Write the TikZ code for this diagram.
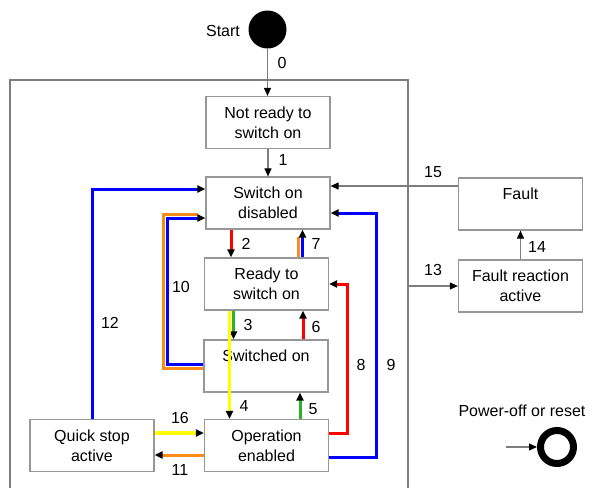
\documentclass[tikz,border=0pt]{standalone}
\usepackage{fontspec}
\setmainfont{Liberation Sans}
\usetikzlibrary{arrows.meta,positioning}
\definecolor{drvblue}{RGB}{0,0,255}
\definecolor{drvred}{RGB}{255,0,0}
\definecolor{drvyellow}{RGB}{255,255,0}
\definecolor{drvgreen}{RGB}{40,180,40}
\definecolor{drvorange}{RGB}{250,140,25}
\definecolor{drvgray}{RGB}{125,125,125}

\begin{document}
\begin{tikzpicture}[x=1pt, y=-1pt, >={Triangle[length=8pt,width=7pt,color=black]},
  every node/.style={font=\fontsize{16}{20}\selectfont},
  box/.style={draw=drvgray!80, line width=1.2pt, minimum width=124pt, minimum height=52pt, align=center, inner sep=0pt},
  link/.style={draw=drvgray, line width=1.1pt},
  bline/.style={draw=drvblue, line width=3pt},
  rline/.style={draw=drvred, line width=3pt},
  yline/.style={draw=drvyellow, line width=3.5pt},
  gline/.style={draw=drvgreen, line width=3pt},
  oline/.style={draw=drvorange, line width=3pt}]
\useasboundingbox (0,0) rectangle (590,488);
% frame of the device states
\draw[link] (10,488) -- (10,80) -- (408,80) -- (408,488);
\node[circle, fill=black, minimum size=38pt, inner sep=0pt] (start) at (267.5,29.5) {};
\node (startlab) at (223,31) {Start};
\node[box] (notready) at (268,122.5) {Not ready to\\switch on};
\node[box] (disabled) at (268,203) {Switch on\\disabled};
\node[box] (ready) at (266.5,284) {Ready to\\switch on};
\node[box] (switched) at (266,366) {Switched on\\\mbox{}};
\node[box] (opena) at (266.5,445.5) {Operation\\enabled};
\node[box] (quick) at (92,445.5) {Quick stop\\active};
\node[box] (fault) at (520.5,204) {Fault\\\mbox{}};
\node[box] (reaction) at (520.5,286) {Fault reaction\\active};
\node (resetlab) at (522,411) {Power-off or reset};
\node[circle, draw=black, line width=7pt, minimum size=33pt, inner sep=0pt] (reset) at (557,447) {};
\coordinate (resetin) at (506,447);
\coordinate (frame13) at (408,286);
% thin transitions
\draw[link, ->] (start.south) -- (start.south |- notready.north);
\draw[link, ->] (notready.south) -- (notready.south |- disabled.north);
\draw[link, ->] ([yshift=18pt]fault.west) -- ([yshift=18pt]fault.west -| disabled.east);
\draw[link, ->] (frame13) -- (frame13 -| reaction.west);
\draw[link, ->] (reaction.north) -- (fault.south);
\draw[link, ->] (resetin) -- (reset.west);
% coloured transitions
\draw[rline, ->] (disabled.south -| 231,0) -- (ready.north -| 231,0);
\draw[oline, shorten >=7pt] (ready.north -| 298.5,0) -- (disabled.south -| 298.5,0);
\draw[bline, ->] (ready.north -| 302.5,0) -- (disabled.south -| 302.5,0);
\draw[gline, ->] (ready.south -| 233.5,0) -- (switched.north -| 233.5,0);
\draw[rline, ->] (switched.north -| 303,0) -- (ready.south -| 303,0);
\draw[gline, ->] (opena.north -| 300,0) -- (switched.south -| 300,0);
\draw[yline, ->] (ready.south -| 229.5,0) -- (opena.north -| 229.5,0);
\draw[rline, ->] ([yshift=12.5pt]opena.east) -| ([xshift=18pt]ready.east) -- (ready.east);
\draw[bline, ->] ([yshift=-11.5pt]opena.east) -| ([xshift=46pt,yshift=-10pt]disabled.east) -- ([yshift=-10pt]disabled.east);
\draw[oline, shorten >=7pt] ([yshift=-2pt]switched.west) -| ([xshift=-42pt,yshift=-11pt]disabled.west) -- ([yshift=-11pt]disabled.west);
\draw[bline, ->] ([yshift=2pt]switched.west) -| ([xshift=-38pt,yshift=-15pt]disabled.west) -- ([yshift=-15pt]disabled.west);
\draw[bline, ->] (quick.north) |- ([yshift=14pt]disabled.west);
\draw[yline, ->] ([yshift=12.5pt]quick.east) -- ([yshift=12.5pt]opena.west);
\draw[oline, ->] ([yshift=-9.5pt]opena.west) -- ([yshift=-9.5pt]quick.east);
% transition numbers
\node (n0) at (282,63) {0};
\node (n1) at (283,160) {1};
\node (n2) at (246,244) {2};
\node (n3) at (248,325) {3};
\node (n4) at (244,406) {4};
\node (n5) at (313,409) {5};
\node (n6) at (316,327) {6};
\node (n7) at (316,244) {7};
\node (n8) at (361,365) {8};
\node (n9) at (391,365) {9};
\node (n10) at (181,287) {10};
\node (n11) at (180,470) {11};
\node (n12) at (110,323) {12};
\node (n13) at (433,270) {13};
\node (n14) at (537,247) {14};
\node (n15) at (433,172) {15};
\node (n16) at (180,418) {16};
\end{tikzpicture}
\end{document}
